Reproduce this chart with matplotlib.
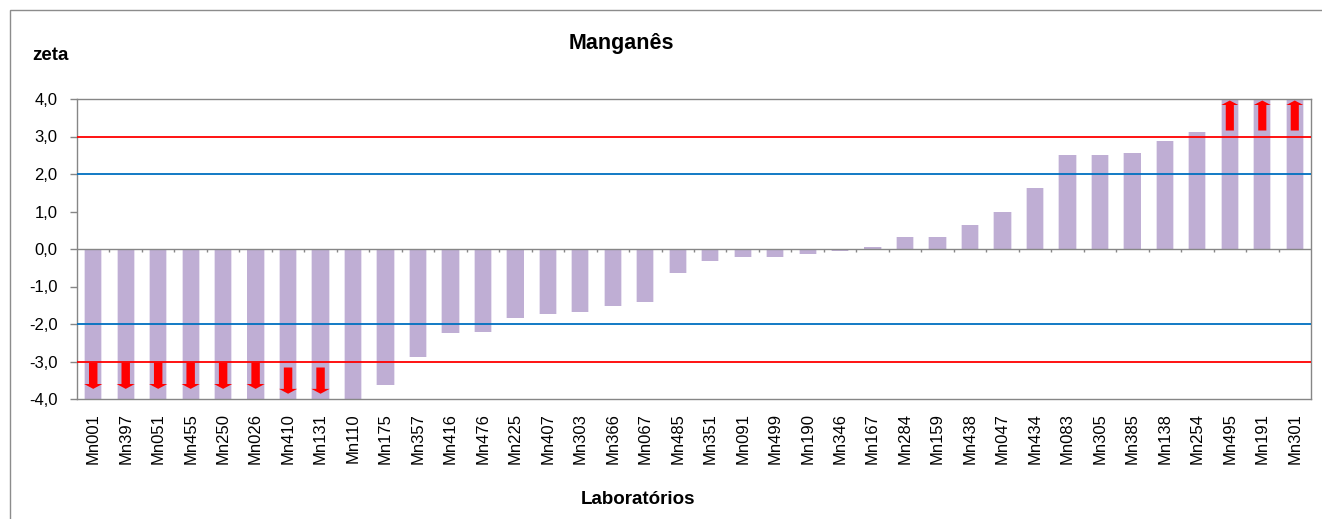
import matplotlib.pyplot as plt
from matplotlib.patches import Rectangle

plt.rcParams['font.family'] = ['Liberation Sans', 'DejaVu Sans']

labs = ["Mn001", "Mn397", "Mn051", "Mn455", "Mn250", "Mn026", "Mn410", "Mn131",
        "Mn110", "Mn175", "Mn357", "Mn416", "Mn476", "Mn225", "Mn407", "Mn303",
        "Mn366", "Mn067", "Mn485", "Mn351", "Mn091", "Mn499", "Mn190", "Mn346",
        "Mn167", "Mn284", "Mn159", "Mn438", "Mn047", "Mn434", "Mn083", "Mn305",
        "Mn385", "Mn138", "Mn254", "Mn495", "Mn191", "Mn301"]
# values beyond +-4 are off the scale in the original (shown with arrows)
zeta = [-6.5, -6.0, -5.6, -5.3, -5.0, -4.8, -4.6, -4.4,
        -4.0, -3.62, -2.87, -2.24, -2.22, -1.85, -1.72, -1.68,
        -1.52, -1.40, -0.63, -0.32, -0.22, -0.20, -0.14, -0.06,
        0.05, 0.33, 0.33, 0.65, 0.98, 1.63, 2.52, 2.52,
        2.57, 2.88, 3.12, 4.5, 4.8, 5.2]
yticks = [-4, -3, -2, -1, 0, 1, 2, 3, 4]
ylabs = ["-4,0", "-3,0", "-2,0", "-1,0", "0,0", "1,0", "2,0", "3,0", "4,0"]

W, H = 1322, 519
fig = plt.figure(figsize=(W / 100, H / 100), dpi=100)
# outer chart frame
fig.patches.append(Rectangle((10 / W, -0.1), 1.2, 1 - 10 / H + 0.1, transform=fig.transFigure,
                             fill=False, edgecolor='#8c8c8c', lw=1.0))

ax = fig.add_axes([77 / W, 1 - 399 / H, (1311 - 77) / W, 300 / H])
x = list(range(len(labs)))
# soft halo then the bar itself
ax.bar(x, zeta, width=0.56, color='#bfaed4', alpha=0.35, zorder=2)
ax.bar(x, zeta, width=0.5, color='#bfaed4', zorder=2)

ax.set_xlim(-0.5, len(labs) - 0.5)
ax.set_ylim(-4, 4)

for y, c in [(3, '#ff0000'), (-3, '#ff0000'), (2, '#0070c0'), (-2, '#0070c0')]:
    ax.axhline(y, color=c, lw=1.3, zorder=3)

# category axis at zero with tick marks between categories
ax.axhline(0, color='#868686', lw=1.0, zorder=3)
bounds = [i + 0.5 for i in range(len(labs) - 1)]
ax.vlines(bounds, -0.07, 0, color='#868686', lw=1.0, zorder=3)

# arrows for values off the scale
for i, v in enumerate(zeta):
    if v < -4:
        start = -3.03 if i < 6 else -3.16
        ax.arrow(i, start, 0, -0.7, width=0.26, head_width=0.56, head_length=0.13,
                 length_includes_head=True, color='#ff0000', lw=0, zorder=4)
    elif v > 4:
        ax.arrow(i, 3.16, 0, 0.8, width=0.25, head_width=0.52, head_length=0.12,
                 length_includes_head=True, color='#ff0000', lw=0, zorder=4)

ax.set_xticks(x)
ax.set_xticklabels(labs, rotation=90, fontsize=12, va='top')
ax.tick_params(axis='x', length=0, pad=10)
ax.set_yticks(yticks)
ax.set_yticklabels(ylabs, fontsize=12)
ax.tick_params(axis='y', length=5, width=1, color='#868686', pad=9)
for s in ax.spines.values():
    s.set_color('#868686')
    s.set_linewidth(1.0)

fig.text(621 / W, 1 - 43 / H, "Manganês", ha='center', va='center', fontsize=15.5, fontweight='bold')
fig.text(32 / W, 1 - 56 / H, "zeta", ha='left', va='center', fontsize=13.5, fontweight='bold')
fig.text(638 / W, 1 - 500 / H, "Laboratórios", ha='center', va='center', fontsize=13.5, fontweight='bold')

fig.savefig("out.png", dpi=100)
